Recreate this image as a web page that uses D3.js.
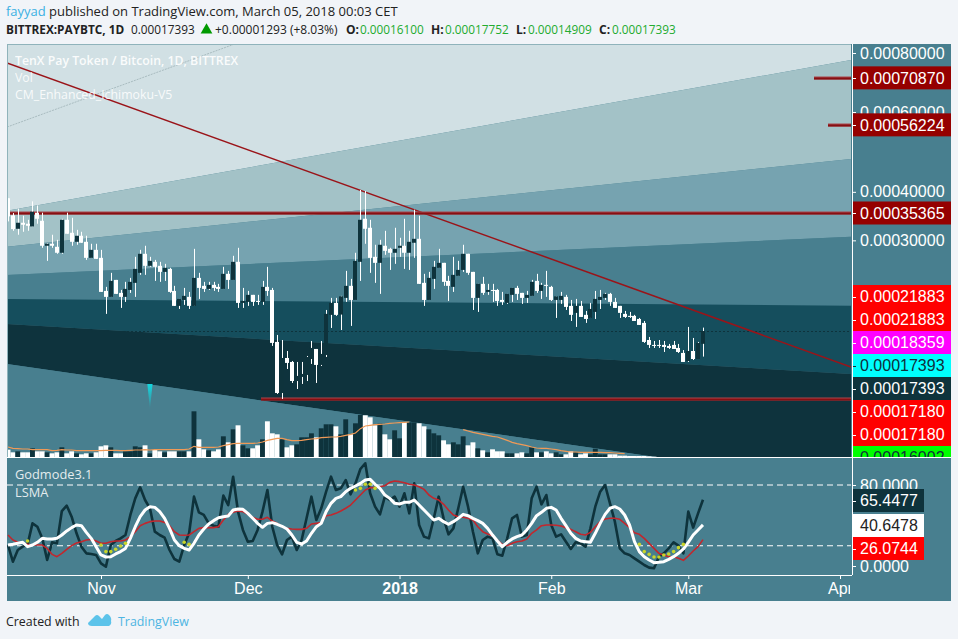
<!DOCTYPE html>
<html><head><meta charset="utf-8">
<script src="https://cdn.jsdelivr.net/npm/d3@7/dist/d3.min.js"></script>
<style>html,body{margin:0;padding:0;background:#f1f4f8;overflow:hidden}svg{display:block}</style>
</head><body><svg id="c" width="958" height="639"></svg>
<script>
// ---------- data (prices in satoshi, 1e-8 BTC) ----------
const firstDay = "2017-10-13";
const opens = [38530,34860,32160,33350,33150,32620,35420,33750,29040,29390,28860,27840,33950,31400,29740,30840,29740,27005,28335,27005,22135,21355,23650,21875,21355,22265,23235,24675,27670,25740,26365,25740,24820,25270,22135,20230,20965,21355,20230,23940,22820,22405,22955,22680,22405,24530,23650,26365,20595,20720,21615,20840,20720,22680,22265,16285,11975,14785,14435,12870,13190,13350,14695,15610,14180,15055,19165,20595,19200,21225,22820,20965,26365,34160,32360,27170,26205,29040,28510,27840,28685,29040,27840,29570,30280,23235,20965,23795,25430,26205,23510,22680,24235,25115,27670,24820,21225,23095,22005,22265,22265,20965,20595,21615,22540,21875,21225,21485,23510,22135,22955,22680,20965,20965,21355,20230,19395,20230,19165,18815,19510,20965,21225,21745,20720,20230,19280,19050,19050,18700,18260,16475,15995,15995,15995,15900,15995,15705,15240,14520,15420,14695,16100];
const highs = [38530,35350,36280,34790,33950,37845,36950,35420,29500,31030,30095,34160,35420,34370,31960,31590,30840,29390,29390,28335,22680,24675,23650,22265,23375,23940,27170,28335,29040,27170,26675,26365,26050,25430,22820,21095,22540,22005,28510,24675,23375,23375,23375,23095,25585,24970,27340,28685,22540,22135,21615,21615,23510,25585,22540,16985,16475,15420,14520,14435,14435,14965,16380,15610,16380,19740,21225,21225,21485,24970,23795,27840,40430,40190,33950,29215,30095,31775,28685,32360,30470,34160,31775,36050,34790,24530,24820,26520,28510,26205,24235,27170,26520,29215,27670,24820,23095,24090,23095,23095,22405,22005,21745,22540,22820,21875,22135,23650,24530,23235,24970,22820,21420,22005,21615,20965,21095,20840,19625,20595,22135,22265,21875,21875,21225,20230,19625,19510,19165,18815,18475,16780,16380,16475,16380,16090,16380,16090,15510,17825,16680,16285,17752];
const lows = [33620,31775,31030,31590,31775,32620,33150,28685,26520,28685,27670,27670,31215,29040,29215,29570,26675,27005,26840,22005,19280,21355,21745,19985,20720,21875,21355,24380,24380,25585,23510,23375,23510,21875,20230,19860,20350,19860,20230,21095,22005,22265,22135,22005,22405,22405,23650,19985,19985,20230,20230,20350,20350,21485,15900,11905,11550,13835,12720,12265,12645,12870,14265,12720,14090,14875,17715,19050,17500,20720,17935,20965,23510,29390,24675,23235,21745,27500,25115,26050,27170,25270,25115,27005,23095,20230,20965,22405,25430,22820,20840,22005,24235,24820,24380,19740,19510,21615,21615,20720,20230,20350,20475,20720,20965,20475,20595,21485,21875,21095,21355,20840,18815,20475,19740,18475,17825,18930,18260,18815,18700,19860,20965,20230,19985,18815,18815,18815,18475,18040,16190,15705,15705,15705,15330,15610,15610,15240,14435,14435,14605,14695,14909];
const closes = [34650,32100,33350,32950,32750,35630,34160,29040,29390,29040,27840,33950,31215,29740,30840,29570,27005,28335,26840,22005,21355,23510,21745,21355,22405,23375,25270,27670,25740,26520,25585,24820,25430,22005,20230,21095,21485,20230,23940,22540,22405,22955,22540,22405,24530,23650,26365,20595,20840,21615,20720,20720,22680,22135,16190,11975,14785,14350,12870,13270,13430,14875,15705,14180,15150,19280,20595,19165,21420,22820,20965,26520,33950,32160,27005,26205,29215,28170,27840,28510,29040,27840,29740,30280,23095,20965,23940,25585,26205,23375,22820,24380,25115,27670,24675,21225,23095,21875,22265,22135,20840,20720,21745,22540,21745,21225,21615,23375,22135,22955,22820,20965,21420,21485,20105,19165,20230,18930,18700,19860,21095,21355,21745,20720,19985,19395,18930,18930,18475,18040,16285,15995,15900,15900,15800,15705,15610,15330,14435,15420,14695,16190,17393];
const volume = [22,14,17,14,14,26,17,17,14,11,14,29,11,17,11,8,11,11,14,32,35,29,11,11,17,17,32,29,35,11,21,17,14,17,17,17,17,17,137,53,23,20,17,23,62,44,83,95,35,26,26,35,53,107,71,68,53,29,35,38,59,59,71,59,86,98,98,92,68,113,68,101,126,125,119,95,100,68,53,80,56,104,104,104,101,92,83,71,65,50,38,44,38,62,35,44,26,20,14,23,17,17,11,11,11,14,11,29,14,14,17,11,14,8,8,17,14,8,11,8,25,8,8,8,8,4,4,3,3,3,3,2,1,0,0,0,0,0,0,0,0,0,0];
const volumeMA = [30,26,25,24,24,22,22,22,22,19,20,22,21,21,19,19,19,19,19,19,20,20,20,19,19,20,21,21,22,21,22,22,22,22,22,22,22,24,32,29,29,29,29,30,34,37,40,41,41,41,41,42,45,50,53,56,56,52,49,49,50,52,54,55,58,59,60,60,62,65,68,72,85,93,95,97,98,99,101,102,103,104,105,null,null,null,null,null,null,null,null,null,null,82,78,74,71,68,65,62,60,55,50,44,40,37,34,30,27,26,26,24,22,19,17,15,15,14,14,14,14,14,13,13,12,11,10,null,null,null,null,null,null,null,null,null,null,null,null,null,null,null,null];
const godmode = [20.7,4.3,15.8,19.1,21.4,42.1,38.8,27.3,5.9,23.4,22.4,54.3,59.6,48.7,32.3,19.1,12.5,11.9,10.9,2.6,-0.7,20.7,24.7,27.3,30.6,50.4,66.8,77.7,65.2,57,33.9,30.6,28,15.8,6.9,4.3,20.7,32.3,68.5,53,50.4,42.1,39.8,38.8,69.5,60.2,88.2,53.7,35.6,24,24.7,35.6,53.7,75.1,38.8,20.7,11.5,25.7,29,15.8,25.7,47.1,68.5,45.4,57,73.4,88.2,75.1,76.7,84.9,70.8,81.6,95.8,101.4,71.8,58.6,51,68.5,65.2,68.5,58.6,71.8,52,81.6,40.5,29,27.3,47.1,68.5,47.1,31.3,37.2,57,78.3,58.6,33.9,12.5,25.7,29,27.3,11.5,10.2,27.3,47.1,50.4,29,30.6,66.8,78.3,60.9,70.1,40.5,29,31.3,24,16.8,23.4,22.4,19.1,37.2,58.6,73.4,80,61.9,43.8,17.4,12.5,10.9,7.6,4.3,1,-1.6,-2.3,9.2,12.5,17.4,23.4,20.1,12.5,53.7,37.9,52,65.4477];
const lsma = [20.7,21.4,22.4,23.4,19.1,20.7,23.4,27.3,26.7,26.7,27.3,30.6,34.6,37.9,40.5,39.8,33.2,27.3,19.1,10.9,8.9,9.2,11.9,14.2,17.4,27.3,38.8,48.7,55.3,58.6,57.9,53.7,47.1,37.2,25.7,20.1,17.4,15.8,22.4,30.6,36.5,41.5,44.8,47.7,48.7,49.4,55.3,56.3,56,52,47.1,42.1,38.2,42.1,42.8,41.2,39.2,36.5,30.6,23.4,21.7,24.7,32.3,38.8,42.1,53.7,61.9,66.8,68.5,73.4,76.7,79,81.6,84.9,85.6,80.7,76.7,70.1,66.8,61.9,61.2,62.9,62.9,65.2,60.2,55.3,50.4,45.4,47.1,43.8,41.2,43.8,47.1,51,49.7,47.1,44.8,42.1,37.2,30.6,24.7,19.1,23.4,26.7,29,30.6,35.6,42.1,49.7,53,57,57.9,55.3,47.1,39.8,32.3,27.3,24.7,24,23.4,32.3,42.1,51,57,58.6,56.3,50.4,40.5,24,14.2,9.2,5.9,3.3,3.6,4.3,6.6,9.2,12.5,16.8,23.4,30.6,35.6,40.6478];
const signal = [30.6,25.7,23.4,22.4,21.4,20.7,20.7,20.7,17.4,11.5,9.2,12.5,16.5,20.1,22.7,24,25.7,26.3,24.7,22.4,22.4,24,24.7,24.7,25.7,29,33.9,39.8,42.1,43.8,44.4,44.4,43.1,39.8,33.9,30.6,30.3,30.6,33.9,37.2,37.9,37.9,37.9,38.8,45.4,51,53,54.3,53.7,51,48.1,46.1,46.1,48.1,44.4,42.1,38.8,37.2,36.5,36.2,36.2,37.2,41.5,42.1,42.8,49.7,50.4,52,54.3,57,60.2,65.2,70.1,75.1,77.4,77.4,78.3,79.3,82.6,83.9,83.3,82.3,80.7,80,78.3,75.7,70.1,66.8,65.2,60.9,55.3,50.4,48.7,48.1,47.1,45.4,38.8,33.9,31.6,30,25.7,21.4,20.1,22.4,24,24.7,26.7,32.3,35.6,39.8,40.5,40.5,40.2,39.5,37.9,36.2,33.9,31.3,30.6,33.2,38.8,43.8,46.4,47.1,47.1,46.1,42.1,37.9,32.9,31.3,27.3,22.4,17.4,12.5,10.9,9.2,9.2,7.6,5.6,9.9,14.8,19.1,26.0744];
const dotIndex = [4,19,20,21,22,23,24,36,37,71,72,73,74,75,129,130,131,132,133,134,135,136,137,138];
const dotValue = [24.7,20.7,14.2,14.2,16.5,19.8,22.4,23.4,21.4,75.1,76.7,80.7,80.7,76.7,21.4,14.2,11.5,8.9,8.9,10.9,11.9,14.2,18.1,21.4];

const fanStart = [35837,28850,24371,21090,18142,14257];
const fanEnd = [77317,47298,30641,20256,13424,6880];
const fanFills = ["#d1e0e4","#a3c2c7","#76a3b0","#487f8f","#154e5d","#0e333d","#487f8f"];
const leftDate = "2017-10-12T19:00Z", rightDate = "2018-04-03T06:00Z";
const trendPrices = [76193,14002];
const greyPrices = [55600,83590];
const greyDates = ["2017-10-12T19:00Z","2017-11-28T08:00Z"];
const levels = [{p:35365,from:leftDate},{p:11541,from:"2017-12-03T15:00Z"},{p:70870,from:"2018-03-26T17:00Z"},{p:56224,from:"2018-03-29T14:00Z"}];
const priceTicks = [80000,60000,40000,30000];
const pegLabels = [70870,56224,35365];
const stackValues = [21883,21883,18359,17393,17393,17180,17180,16002];
const stackFills = ["#ff0000","#ff0000","#ff00ff","#00ffff","#0e333c","#ff0000","#ff0000","#00ff00"];
const stackText = ["#fff","#fff","#fff","#10303a","#fff","#fff","#fff","#10303a"];
const timeTicks = ["2017-11-01","2017-12-01","2018-01-01","2018-02-01","2018-03-01","2018-04-01"];
const timeLabels = ["Nov","Dec","2018","Feb","Mar","Apr"];
const oscTicks = [80,0];
const oscLevels = [80,20];
const oscLabels = [[65.4477,"#0e333c","#fff"],[40.6478,"#ffffff","#222"],[26.0744,"#ff0000","#fff"]];

// ---------- layout ----------
const L=7,R=851,T=44,B=457,SB=575,PR=951,PB=601;
const AF='"Liberation Sans",Arial,sans-serif', UI='"Open Sans","Noto Sans",sans-serif';
const DARK="#0e333c", PANEL="#487f8f";
const svg=d3.select("#c");
const defs=svg.append("defs");
defs.append("clipPath").attr("id","main").append("rect").attr("x",L).attr("y",T).attr("width",R-L).attr("height",B-T);
defs.append("clipPath").attr("id","sub").append("rect").attr("x",L).attr("y",B+1).attr("width",R-L).attr("height",SB-B-1);
defs.append("clipPath").attr("id","time").append("rect").attr("x",L).attr("y",SB).attr("width",R-L-1).attr("height",PB-SB);
defs.append("clipPath").attr("id","labels").append("rect").attr("x",R).attr("y",T).attr("width",PR-R).attr("height",B-T);
const gr=defs.append("linearGradient").attr("id","tip").attr("x1",0).attr("x2",0).attr("y1",0).attr("y2",1);
gr.append("stop").attr("offset",0).attr("stop-color","#12d8e0");
gr.append("stop").attr("offset",1).attr("stop-color","#12d8e0").attr("stop-opacity",0.05);

const x=d3.scaleUtc().domain([new Date("2017-11-01"),new Date("2018-04-01")]).range([101,840]);
const y=d3.scaleLog().domain([80000,60000,40430,35365,17393,6880]).range([53,112,190,213,331,485]);
const vy=d3.scaleLinear().domain([0,140]).range([B,B-46.7]);
const oy=d3.scaleLinear().domain([0,80]).range([566,485]);
const days=opens.map((_,i)=>d3.utcDay.offset(new Date(firstDay),i));

svg.append("rect").attr("x",L).attr("y",T).attr("width",PR-L).attr("height",PB-T).attr("fill",PANEL);

// ---------- price pane ----------
const main=svg.append("g").attr("clip-path","url(#main)");
const xL=x(new Date(leftDate)), xR=x(new Date(rightDate));
const topS=[200000,...fanStart,1000], topE=[200000,...fanEnd,1000];
const area=d3.area().x(d=>d.x).y0(d=>d.y0).y1(d=>d.y1);
fanFills.forEach((f,i)=>{
  main.append("path").attr("fill",f).attr("d",area([
    {x:xL,y0:y(topS[i]),y1:y(topS[i+1])},{x:xR,y0:y(topE[i]),y1:y(topE[i+1])}]));
});
const ln=d3.line();
main.append("path").attr("d",ln([[x(new Date(greyDates[0])),y(greyPrices[0])],[x(new Date(greyDates[1])),y(greyPrices[1])]]))
  .attr("stroke","#a9bcc0").attr("stroke-width",1).attr("stroke-dasharray","2,1").attr("fill","none");
main.append("line").attr("x1",L).attr("x2",R).attr("y1",y(17393)+.5).attr("y2",y(17393)+.5)
  .attr("stroke",DARK).attr("stroke-dasharray","2,2");
main.append("path").attr("d",ln([[xL,y(trendPrices[0])],[xR,y(trendPrices[1])]]))
  .attr("stroke","#9a1419").attr("stroke-width",1.5).attr("fill","none");
levels.forEach(l=>{
  const a=Math.round(x(new Date(l.from))),b=R,yy=Math.round(y(l.p));
  main.append("rect").attr("x",a).attr("width",b-a).attr("y",yy-1.5).attr("height",3).attr("fill","#a9474c");
  main.append("rect").attr("x",a).attr("width",b-a).attr("y",yy-.5).attr("height",2).attr("fill","#860f12");
});
main.selectAll(".wick").data(days).join("rect").attr("class","wick")
  .attr("x",d=>Math.round(x(d))).attr("width",1)
  .attr("y",(d,i)=>y(highs[i])).attr("height",(d,i)=>Math.max(1,y(lows[i])-y(highs[i]))).attr("fill","#fff");
main.selectAll(".body").data(days).join("rect").attr("class","body")
  .attr("x",d=>Math.round(x(d))-2).attr("width",4)
  .attr("y",(d,i)=>y(Math.max(opens[i],closes[i])))
  .attr("height",(d,i)=>Math.max(1,Math.abs(y(opens[i])-y(closes[i]))))
  .attr("fill",(d,i)=>closes[i]>=opens[i]?DARK:"#fff");
// signal tip
const tipX=x(days[29]),tipY=y(12640);
main.append("path").attr("d",ln([[tipX-2.6,tipY],[tipX+2.6,tipY],[tipX,tipY+25]])+"Z").attr("fill","url(#tip)");
// volume
main.selectAll(".vol").data(days).join("rect").attr("class","vol")
  .attr("x",d=>x(d)-2.45).attr("width",4.9)
  .attr("y",(d,i)=>vy(volume[i])).attr("height",(d,i)=>B-vy(volume[i]))
  .attr("fill",(d,i)=>closes[i]>=opens[i]?DARK:"#fff");
main.append("path").attr("fill","none").attr("stroke","#f09a57").attr("stroke-width",1.2)
  .attr("d",d3.line().defined((d,i)=>volumeMA[i]!==null).x(d=>x(d)).y((d,i)=>vy(volumeMA[i]))(days));

// ---------- oscillator pane ----------
const sub=svg.append("g").attr("clip-path","url(#sub)");
oscLevels.forEach(v=>sub.append("line").attr("x1",L).attr("x2",R).attr("y1",oy(v)).attr("y2",oy(v))
  .attr("stroke","#fff").attr("stroke-dasharray","6,4"));
const osc=arr=>d3.line().x(d=>x(d)).y((d,i)=>oy(arr[i]))(days);
sub.append("path").attr("d",osc(godmode)).attr("fill","none").attr("stroke",DARK).attr("stroke-width",2.6).attr("stroke-linejoin","round");
sub.append("path").attr("d",osc(signal)).attr("fill","none").attr("stroke","#c2272d").attr("stroke-width",1.6).attr("stroke-linejoin","round");
sub.append("path").attr("d",osc(lsma)).attr("fill","none").attr("stroke","#fff").attr("stroke-width",3).attr("stroke-linejoin","round");
sub.selectAll(".dot").data(dotIndex).join("circle").attr("class","dot")
  .attr("cx",d=>x(days[d])).attr("cy",(d,i)=>oy(dotValue[i])).attr("r",1.8).attr("fill","#c8d52a");

// ---------- frame lines ----------
svg.append("line").attr("x1",L).attr("x2",R).attr("y1",T+.5).attr("y2",T+.5).attr("stroke","#8fb3bb");
svg.append("line").attr("x1",L+.5).attr("x2",L+.5).attr("y1",T).attr("y2",B).attr("stroke","#8fb3bb");
svg.append("line").attr("x1",L).attr("x2",PR).attr("y1",B+.5).attr("y2",B+.5).attr("stroke","#fff");
svg.append("line").attr("x1",L).attr("x2",R+1).attr("y1",SB+.5).attr("y2",SB+.5).attr("stroke","#fff");

// ---------- price axis ----------
const styleAxis=g=>{g.select(".domain").remove();
  g.selectAll("line").attr("stroke","#fff");
  g.selectAll("text").attr("fill","#fff").attr("font-family",AF).attr("font-size",16);};
svg.append("g").attr("transform",`translate(${R+1},0)`)
  .call(d3.axisRight(y).tickValues(priceTicks).tickSize(4).tickPadding(4).tickFormat(v=>d3.format(".8f")(v*1e-8)))
  .call(styleAxis);
const labels=svg.append("g").attr("clip-path","url(#labels)");
const tag=(yy,fill,col,txt,w)=>{
  labels.append("rect").attr("x",R+1).attr("y",yy-11.5).attr("width",w).attr("height",23).attr("fill",fill);
  labels.append("rect").attr("x",R+1).attr("y",Math.round(yy)).attr("width",4).attr("height",1).attr("fill",col==="#fff"?"#fff":col);
  labels.append("text").attr("x",860).attr("y",yy).attr("dy",".36em").attr("fill",col).attr("font-family",AF).attr("font-size",16).text(txt);
};
pegLabels.forEach(v=>tag(y(v),"#950000","#fff",d3.format(".8f")(v*1e-8),PR-R-1));
stackValues.forEach((v,i)=>tag(296.5+23*i,stackFills[i],stackText[i],d3.format(".8f")(v*1e-8),PR-R-1));

// ---------- oscillator axis ----------
svg.append("g").attr("transform",`translate(${R+1},0)`)
  .call(d3.axisRight(oy).tickValues(oscTicks).tickSize(4).tickPadding(4).tickFormat(d3.format(".4f")))
  .call(styleAxis);
const oscStack=[500.5,525.5,548.5];
oscLabels.forEach((o,i)=>{
  svg.append("rect").attr("x",R+1).attr("y",oscStack[i]-11.5).attr("width",72).attr("height",23).attr("fill",o[1]);
  svg.append("rect").attr("x",R+1).attr("y",Math.round(oscStack[i])).attr("width",4).attr("height",1).attr("fill","#fff");
  svg.append("text").attr("x",860).attr("y",oscStack[i]).attr("dy",".36em").attr("fill",o[2]).attr("font-family",AF).attr("font-size",16).text(d3.format(".4f")(o[0]));
});
svg.append("line").attr("x1",R+1.5).attr("x2",R+1.5).attr("y1",T).attr("y2",SB).attr("stroke","#fff");

// ---------- time axis ----------
const tg=svg.append("g").attr("clip-path","url(#time)").append("g").attr("transform",`translate(0,${SB})`)
  .call(d3.axisBottom(x).tickValues(timeTicks.map(d=>new Date(d))).tickSize(4).tickPadding(4).tickFormat((d,i)=>timeLabels[i]))
  .call(styleAxis);
tg.selectAll("text").attr("font-weight",(d,i)=>timeLabels[i]==="2018"?"bold":"normal");

// ---------- texts ----------
const T_=(tx,ty,s,o={})=>svg.append("text").attr("x",tx).attr("y",ty).attr("font-family",o.f||UI)
  .attr("font-size",o.s||13).attr("font-weight",o.w||"normal").attr("fill",o.c||"#222").attr("opacity",o.o||1).text(s);
const W={c:"#fff",o:.85,s:12.3};
T_(15,65,"TenX Pay Token / Bitcoin, 1D, BITTREX",{c:"#fff",o:.9,s:12.3,w:"600"});
T_(15,82,"Vol",W);
T_(15,99,"CM_Enhanced_Ichimoku-V5",W);
T_(15,479,"Godmode3.1",{c:"#fff",o:.85,s:12.8});
T_(15,497,"LSMA",{c:"#fff",o:.85,s:12.8});
T_(6,16,"fayyad",{c:"#3bb0e3",s:13});
T_(49,16,"published on TradingView.com, March 05, 2018 00:03 CET",{s:13});
T_(6,34,"BITTREX:PAYBTC, 1D",{s:11.8,w:"700"});
T_(131,34,"0.00017393",{s:11.8});
svg.append("path").attr("d",d3.symbol(d3.symbolTriangle,60)()).attr("transform","translate(206.5,30)").attr("fill","#009a00");
T_(215,34,"+0.00001293 (+8.03%)",{s:12});
const G="#22ab2f";
T_(346,34,"O:",{s:12,w:"700"});T_(360,34,"0.00016100",{s:11.8,c:G});
T_(431,34,"H:",{s:12,w:"700"});T_(445,34,"0.00017752",{s:11.8,c:G});
T_(516,34,"L:",{s:12,w:"700"});T_(528,34,"0.00014909",{s:11.8,c:G});
T_(599,34,"C:",{s:12,w:"700"});T_(612,34,"0.00017393",{s:11.8,c:G});
T_(6,626,"Created with",{s:12.4});
T_(118,626,"TradingView",{s:12.4,c:"#4db5e2"});
svg.append("path").attr("transform","translate(88,612)").attr("fill","#5cc3ea")
  .attr("d","M0 11 L7 4 Q9 2 11 4 L14 7 L17 3 Q19 1 21 3 Q24 6 23 9 Q24 12 21 14 L4 14 Q0 14 0 11 Z M4 11 L9 7 L13 11 L19 6 L16 12 L7 12 Z");
</script></body></html>
